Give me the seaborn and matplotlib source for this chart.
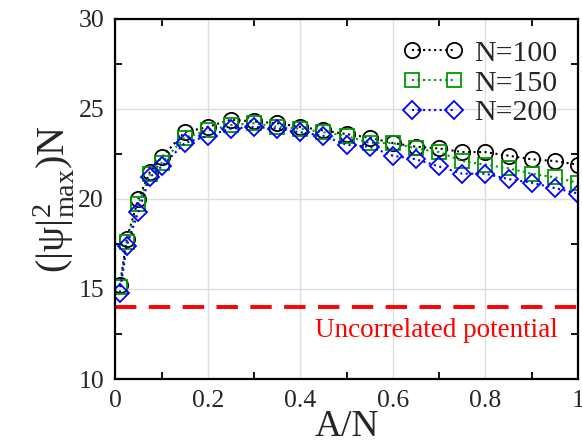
import numpy as np
import pandas as pd
import matplotlib
matplotlib.use("Agg")
import matplotlib.pyplot as plt
import seaborn as sns
from matplotlib.ticker import MultipleLocator

sns.set_style("ticks")
plt.rcParams['font.family'] = ['Liberation Serif', 'DejaVu Serif']
plt.rcParams['mathtext.fontset'] = 'custom'
plt.rcParams['mathtext.rm'] = 'Liberation Serif'

a_over_n = [0.01, 0.025, 0.05, 0.075, 0.1, 0.15, 0.2, 0.25, 0.3, 0.35, 0.4, 0.45,
            0.5, 0.55, 0.6, 0.65, 0.7, 0.75, 0.8, 0.85, 0.9, 0.95, 1.0]
n100 = [15.2, 17.8, 20.0, 21.5, 22.3, 23.7, 24.0, 24.4, 24.3, 24.2, 24.0, 23.8,
        23.6, 23.4, 23.1, 22.9, 22.8, 22.6, 22.6, 22.4, 22.2, 22.1, 21.9]
n150 = [15.1, 17.6, 19.7, 21.4, 22.0, 23.4, 23.8, 24.1, 24.2, 24.0, 23.9, 23.7,
        23.5, 23.1, 23.1, 22.8, 22.6, 22.1, 21.9, 21.7, 21.4, 21.2, 20.9]
n200 = [14.8, 17.4, 19.3, 21.2, 21.8, 23.1, 23.5, 23.9, 24.0, 23.9, 23.7, 23.5,
        23.0, 22.9, 22.4, 22.2, 21.8, 21.4, 21.4, 21.1, 20.9, 20.6, 20.3]
uncorrelated = 14.0

series = [("N=100", n100, "black", "o", 11),
          ("N=150", n150, "#009900", "s", 10),
          ("N=200", n200, "#0000ff", "D", 9)]

fig = plt.figure(figsize=(5.82, 4.48), dpi=100)
ax = fig.add_axes([0.198, 0.154, 0.795, 0.804])

for label, vals, col, mk, ms in series:
    df = pd.DataFrame({"x": a_over_n, "y": vals})
    sns.lineplot(data=df, x="x", y="y", ax=ax, color=col, linestyle=":", lw=1.5,
                 marker=mk, markersize=ms, markerfacecolor="none",
                 markeredgecolor=col, markeredgewidth=1.3, label=label)

ax.axhline(uncorrelated, color="#ff0000", lw=2.8, dashes=(5.5, 3.2))
ax.text(0.695, 12.7, "Uncorrelated potential", color="#ff0000", fontsize=19.5,
        ha="center", va="center")

ax.set_xlim(0, 1)
ax.set_ylim(10, 30)
ax.xaxis.set_minor_locator(MultipleLocator(0.1))
ax.yaxis.set_major_locator(MultipleLocator(5))
ax.yaxis.set_minor_locator(MultipleLocator(2.5))
ax.set_xticks([0, 0.2, 0.4, 0.6, 0.8, 1.0])
ax.set_xticklabels(["0", "0.2", "0.4", "0.6", "0.8", "1"])
ax.tick_params(which="major", length=0, labelsize=18.5, pad=8)
ax.tick_params(which="minor", length=5, width=1.3, direction="in",
               top=True, right=True, color="black")
ax.grid(True, which="major", color="#dddddd", lw=1)
for s in ax.spines.values():
    s.set_linewidth(1.6)
    s.set_color("black")

ax.set_xlabel("A/N", fontsize=27, labelpad=-2)
ax.set_ylabel(r"$\mathrm{(|ψ|^2_{max})N}$", fontsize=29, labelpad=2)

ax.legend(loc="upper right", frameon=False, fontsize=21.5, numpoints=2,
          handlelength=2.0, handletextpad=0.37, labelspacing=0.1,
          borderaxespad=0.3)

fig.savefig("out.png", dpi=100)
